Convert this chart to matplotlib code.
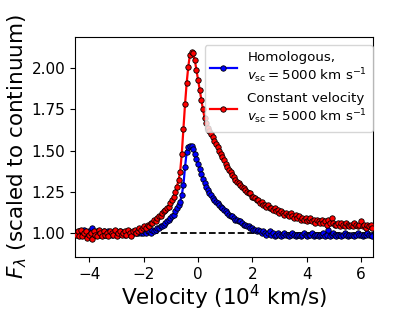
import matplotlib
matplotlib.use("Agg")
import matplotlib.pyplot as plt
import numpy as np

# velocity grid (10^4 km/s)
velocity = [
    -4.50, -4.44, -4.38, -4.32, -4.26, -4.20, -4.14, -4.08, -4.02, -3.96,
    -3.90, -3.84, -3.78, -3.72, -3.66, -3.60, -3.54, -3.48, -3.42, -3.36,
    -3.30, -3.24, -3.18, -3.12, -3.06, -3.00, -2.94, -2.88, -2.82, -2.76,
    -2.70, -2.64, -2.58, -2.52, -2.46, -2.40, -2.34, -2.28, -2.22, -2.16,
    -2.10, -2.04, -1.98, -1.92, -1.86, -1.80, -1.74, -1.68, -1.62, -1.56,
    -1.50, -1.44, -1.38, -1.32, -1.26, -1.20, -1.14, -1.08, -1.02, -0.96,
    -0.90, -0.84, -0.78, -0.72, -0.66, -0.60, -0.54, -0.48, -0.42, -0.36,
    -0.30, -0.24, -0.18, -0.12, -0.06, 0.00, 0.06, 0.12, 0.18, 0.24,
    0.30, 0.36, 0.42, 0.48, 0.54, 0.60, 0.66, 0.72, 0.78, 0.84,
    0.90, 0.96, 1.02, 1.08, 1.14, 1.20, 1.26, 1.32, 1.38, 1.44,
    1.50, 1.56, 1.62, 1.68, 1.74, 1.80, 1.86, 1.92, 1.98, 2.04,
    2.10, 2.16, 2.22, 2.28, 2.34, 2.40, 2.46, 2.52, 2.58, 2.64,
    2.70, 2.76, 2.82, 2.88, 2.94, 3.00, 3.06, 3.12, 3.18, 3.24,
    3.30, 3.36, 3.42, 3.48, 3.54, 3.60, 3.66, 3.72, 3.78, 3.84,
    3.90, 3.96, 4.02, 4.08, 4.14, 4.20, 4.26, 4.32, 4.38, 4.44,
    4.50, 4.56, 4.62, 4.68, 4.74, 4.80, 4.86, 4.92, 4.98, 5.04,
    5.10, 5.16, 5.22, 5.28, 5.34, 5.40, 5.46, 5.52, 5.58, 5.64,
    5.70, 5.76, 5.82, 5.88, 5.94, 6.00, 6.06, 6.12, 6.18, 6.24,
    6.30, 6.36, 6.42,
]

# homologous model, v_sc = 5000 km/s
flux_homologous = [
    1.00, 0.99, 1.01, 1.00, 0.99, 1.02, 1.00, 0.99, 1.01, 1.00,
    1.03, 1.00, 0.99, 1.01, 1.00, 0.99, 1.00, 1.01, 0.99, 1.00,
    1.01, 1.00, 0.99, 1.00, 1.01, 1.00, 0.99, 1.01, 1.00, 1.00,
    0.99, 1.00, 1.01, 1.00, 0.99, 1.00, 1.01, 1.00, 1.00, 1.01,
    1.00, 1.00, 1.01, 1.00, 1.01, 1.01, 1.00, 1.02, 1.01, 1.02,
    1.03, 1.03, 1.04, 1.04, 1.05, 1.06, 1.07, 1.08, 1.09, 1.10,
    1.11, 1.13, 1.15, 1.17, 1.19, 1.23, 1.29, 1.40, 1.49, 1.52,
    1.53, 1.53, 1.51, 1.48, 1.45, 1.42, 1.39, 1.36, 1.33, 1.30,
    1.28, 1.26, 1.24, 1.23, 1.21, 1.20, 1.19, 1.18, 1.17, 1.16,
    1.15, 1.14, 1.13, 1.12, 1.11, 1.10, 1.10, 1.09, 1.08, 1.08,
    1.07, 1.07, 1.06, 1.05, 1.05, 1.04, 1.04, 1.03, 1.03, 1.02,
    1.02, 1.01, 1.02, 1.01, 1.00, 1.01, 1.00, 0.99, 1.00, 1.01,
    0.99, 1.00, 0.98, 0.99, 1.00, 0.99, 0.98, 0.99, 1.00, 0.99,
    0.99, 0.98, 0.99, 1.00, 0.99, 0.98, 0.99, 0.99, 0.98, 0.99,
    1.00, 0.99, 0.98, 0.99, 0.99, 1.00, 0.98, 0.99, 0.99, 0.98,
    0.99, 0.99, 1.00, 0.98, 0.99, 1.02, 0.98, 0.99, 1.00, 0.99,
    0.98, 0.99, 0.99, 0.98, 0.99, 1.00, 0.99, 0.98, 0.99, 0.99,
    0.99, 0.98, 0.99, 1.00, 0.99, 0.99, 0.98, 0.99, 0.99, 1.00,
    0.99, 0.99, 0.98,
]

# constant velocity model, v_sc = 5000 km/s
flux_constant = [
    0.99, 1.01, 0.98, 1.02, 0.98, 1.00, 1.01, 0.97, 0.99, 1.00,
    0.96, 1.01, 0.99, 0.98, 1.02, 1.00, 0.98, 1.01, 0.99, 1.00,
    0.98, 1.01, 1.00, 0.99, 1.02, 0.98, 1.00, 1.01, 0.99, 1.00,
    1.01, 0.99, 1.02, 1.00, 0.98, 1.01, 1.02, 1.00, 1.01, 1.03,
    1.02, 1.03, 1.04, 1.03, 1.05, 1.04, 1.06, 1.06, 1.08, 1.07,
    1.09, 1.10, 1.10, 1.12, 1.13, 1.14, 1.15, 1.16, 1.18, 1.20,
    1.22, 1.25, 1.28, 1.32, 1.37, 1.48, 1.63, 1.78, 1.91, 2.01,
    2.08, 2.10, 2.09, 2.05, 1.99, 1.93, 1.87, 1.81, 1.75, 1.70,
    1.67, 1.64, 1.62, 1.60, 1.58, 1.56, 1.54, 1.52, 1.50, 1.48,
    1.46, 1.44, 1.42, 1.40, 1.38, 1.37, 1.35, 1.34, 1.32, 1.31,
    1.30, 1.29, 1.28, 1.27, 1.26, 1.25, 1.24, 1.24, 1.22, 1.22,
    1.21, 1.20, 1.20, 1.18, 1.19, 1.17, 1.17, 1.16, 1.17, 1.15,
    1.15, 1.14, 1.15, 1.13, 1.14, 1.12, 1.13, 1.12, 1.11, 1.12,
    1.11, 1.10, 1.12, 1.10, 1.09, 1.11, 1.09, 1.10, 1.08, 1.09,
    1.08, 1.09, 1.07, 1.08, 1.09, 1.07, 1.08, 1.06, 1.08, 1.07,
    1.06, 1.08, 1.06, 1.07, 1.05, 1.08, 1.06, 1.09, 1.06, 1.05,
    1.05, 1.06, 1.04, 1.06, 1.05, 1.04, 1.06, 1.05, 1.04, 1.05,
    1.04, 1.06, 1.05, 1.04, 1.05, 1.07, 1.04, 1.05, 1.03, 1.05,
    1.04, 1.05, 1.03,
]

x_ticks = [-4, -2, 0, 2, 4, 6]
y_ticks = [1.00, 1.25, 1.50, 1.75, 2.00]

fig = plt.figure(figsize=(4.15, 3.11), dpi=100)
ax = fig.add_axes([0.181, 0.174, 0.718, 0.707])

# continuum level
ax.axhline(1.0, color="k", ls="--", lw=1.3, zorder=1)

ax.plot(velocity, flux_homologous, "-o", color="blue", lw=1.6, ms=3.9,
        mfc="blue", mec="black", mew=0.6, zorder=2,
        label="Homologous,\n$v_{\\rm sc} = 5000$ km s$^{-1}$")
ax.plot(velocity, flux_constant, "-o", color="red", lw=1.6, ms=3.9,
        mfc="red", mec="black", mew=0.6, zorder=3,
        label="Constant velocity\n$v_{\\rm sc} = 5000$ km s$^{-1}$")

ax.set_xlim(-4.53, 6.45)
ax.set_ylim(0.854, 2.19)
ax.set_xticks(x_ticks)
ax.set_yticks(y_ticks)
ax.set_yticklabels(["%.2f" % t for t in y_ticks])
ax.tick_params(labelsize=11)

ax.set_xlabel("Velocity (10$^4$ km/s)", fontsize=15.5, labelpad=1)
ax.set_ylabel("$F_\\lambda$ (scaled to continuum)", fontsize=15.5, labelpad=2)

ax.legend(loc="upper right", bbox_to_anchor=(1.012, 0.98), fontsize=9.6,
          handlelength=2.0, borderaxespad=0.3)

fig.savefig("out.png", dpi=100)
